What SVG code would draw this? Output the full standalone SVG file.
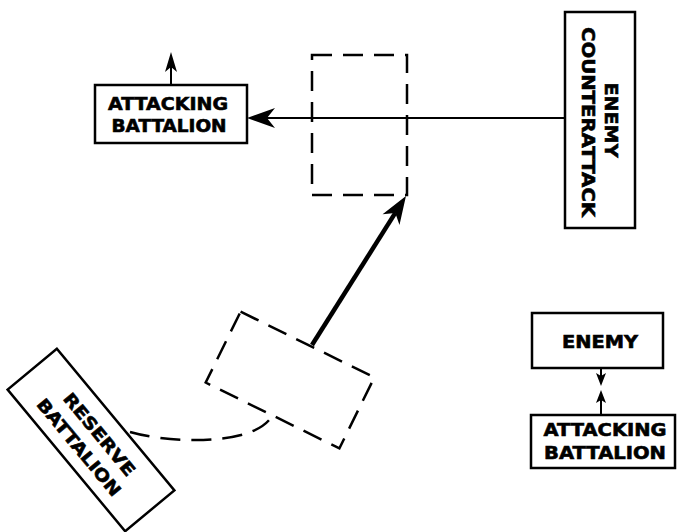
<svg xmlns="http://www.w3.org/2000/svg" width="682" height="532" viewBox="0 0 682 532">
<style>
.box{fill:#fff;stroke:#000;stroke-width:2.5}
.dash{fill:none;stroke:#000;stroke-width:2.5;stroke-dasharray:20 11}
.lbl{font-family:"DejaVu Sans",sans-serif;font-weight:bold;font-size:17px;fill:#000;stroke:#000;stroke-width:0.6;text-anchor:middle}
.ln{fill:none;stroke:#000;stroke-width:2}
</style>
<defs>
<marker id="big" viewBox="-10 -11 32 22" markerWidth="32" markerHeight="22" refX="0" refY="0" orient="auto" markerUnits="userSpaceOnUse"><path d="M20,0 L-8,-10 L0,0 L-8,10 Z" fill="#000"/></marker>
<marker id="med" viewBox="-8 -8 26 16" markerWidth="26" markerHeight="16" refX="0" refY="0" orient="auto" markerUnits="userSpaceOnUse"><path d="M15,0 L-5,-6 L0,0 L-5,6 Z" fill="#000"/></marker>
<marker id="sm" viewBox="-6 -6 18 12" markerWidth="18" markerHeight="12" refX="0" refY="0" orient="auto" markerUnits="userSpaceOnUse"><path d="M10,0 L-3,-5 L0,0 L-3,5 Z" fill="#000"/></marker>
</defs>
<rect width="682" height="532" fill="#fff"/>
<g id="connectors">
<line class="ln" x1="565" y1="118" x2="267" y2="118" marker-end="url(#big)"/>
<line class="ln" x1="171" y1="85" x2="171" y2="67" marker-end="url(#med)"/>
<line x1="312" y1="345" x2="395.3" y2="212.9" stroke="#000" stroke-width="4.5" marker-end="url(#big)"/>
<path class="dash" d="M130,432 C165,442 220,443 248,433 C262,428 270,421 273,414" stroke-dasharray="16 12"/>
<line class="ln" x1="601" y1="368" x2="601" y2="376" marker-end="url(#sm)"/>
<line class="ln" x1="601" y1="415" x2="601" y2="400" marker-end="url(#sm)"/>
</g>
<g id="attacking-battalion-top">
<rect class="box" x="95" y="85" width="152" height="58"/>
<text class="lbl" x="168" y="110" textLength="120" lengthAdjust="spacingAndGlyphs">ATTACKING</text>
<text class="lbl" x="169" y="132" textLength="115" lengthAdjust="spacingAndGlyphs">BATTALION</text>
</g>
<g id="objective">
<rect class="dash" x="312" y="55" width="95" height="140"/>
</g>
<g id="enemy-counterattack">
<rect class="box" x="565" y="12" width="70" height="216"/>
<text class="lbl" transform="translate(605,120) rotate(90)" textLength="75" lengthAdjust="spacingAndGlyphs">ENEMY</text>
<text class="lbl" transform="translate(582,122) rotate(90)" textLength="190" lengthAdjust="spacingAndGlyphs">COUNTERATTACK</text>
</g>
<g id="reserve-position">
<rect class="dash" x="-74.5" y="-39.5" width="149" height="79" transform="translate(290,380) rotate(26.2)"/>
</g>
<g id="reserve-battalion" transform="translate(91,440) rotate(50.3)">
<rect class="box" x="-92" y="-32" width="184" height="64"/>
<text class="lbl" x="1" y="-4" textLength="102" lengthAdjust="spacingAndGlyphs">RESERVE</text>
<text class="lbl" x="-2" y="20" textLength="121" lengthAdjust="spacingAndGlyphs">BATTALION</text>
</g>
<g id="enemy">
<rect class="box" x="532" y="313" width="131" height="55"/>
<text class="lbl" x="600" y="348" textLength="76" lengthAdjust="spacingAndGlyphs">ENEMY</text>
</g>
<g id="attacking-battalion-bottom">
<rect class="box" x="531" y="415" width="144" height="53"/>
<text class="lbl" x="605" y="436" textLength="123" lengthAdjust="spacingAndGlyphs">ATTACKING</text>
<text class="lbl" x="605" y="459" textLength="122" lengthAdjust="spacingAndGlyphs">BATTALION</text>
</g>
</svg>
